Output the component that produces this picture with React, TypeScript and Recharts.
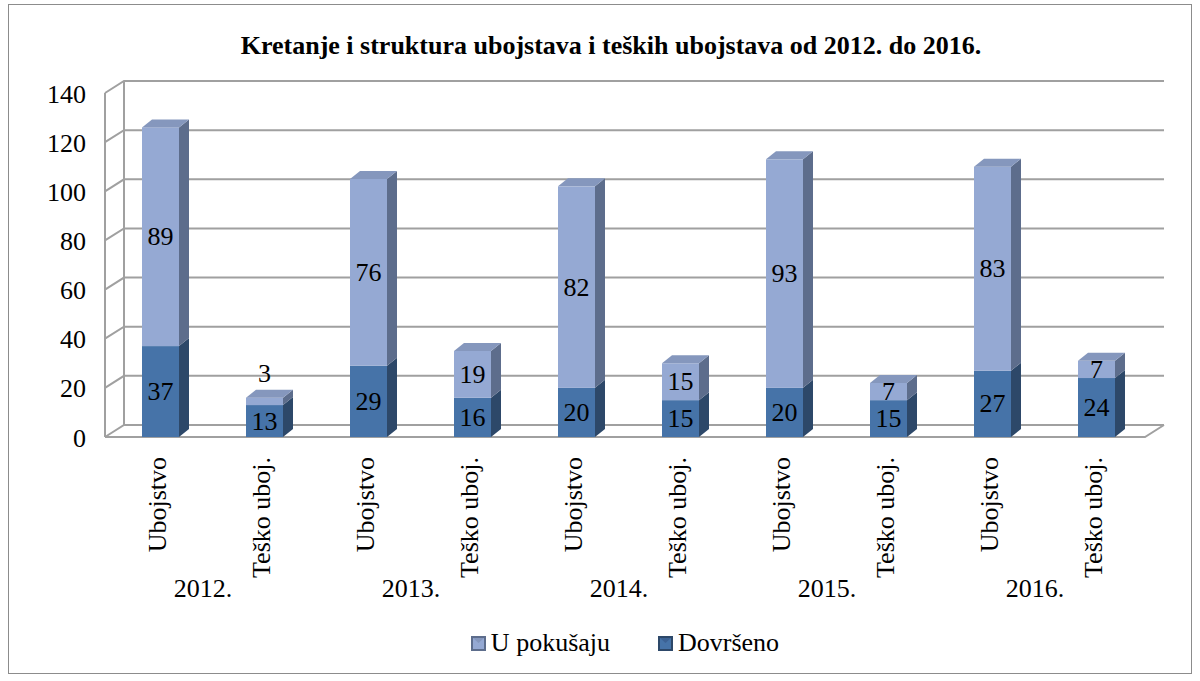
import React from "react";
import {
    BarChart,
    Bar,
    XAxis,
    YAxis,
    CartesianGrid,
    Legend,
    LabelList,
} from "recharts";

const categories = [
    "Ubojstvo",
    "Teško uboj.",
    "Ubojstvo",
    "Teško uboj.",
    "Ubojstvo",
    "Teško uboj.",
    "Ubojstvo",
    "Teško uboj.",
    "Ubojstvo",
    "Teško uboj.",
];
const years = ["2012.", "2013.", "2014.", "2015.", "2016."];
const dovrseno = [37, 13, 29, 16, 20, 15, 20, 15, 27, 24];
const uPokusaju = [89, 3, 76, 19, 82, 15, 93, 7, 83, 7];
const yTicks = [0, 20, 40, 60, 80, 100, 120, 140];

const data = categories.map((name, i) => ({
    name,
    year: years[Math.floor(i / 2)],
    dovrseno: dovrseno[i],
    pokusaj: uPokusaju[i],
}));

const FONT = "'Liberation Serif', 'Times New Roman', serif";
const FS = 26;
const W = 1182;
const H = 668;
const DX = 19; // 3D wall depth
const DY = 12;
const BAR_DX = 10; // bar depth
const BAR_DY = 8;
const GRID = "#a0a0a0";

const LIGHT = { front: "#95a9d3", side: "#5d6d8c", top: "#8597bd" };
const DARK = { front: "#4673a8", side: "#2d4869", top: "#3c6294" };

function makeBox(c: typeof LIGHT, withTop: boolean) {
    return (props: any) => {
        const { x, y, width, height } = props;
        if (!height || height <= 0) return <g />;
        const bx = x + 3;
        const r = bx + width;
        return (
            <g>
                <rect x={bx} y={y} width={width} height={height} fill={c.front} />
                <polygon
                    points={`${r},${y} ${r + BAR_DX},${y - BAR_DY} ${r + BAR_DX},${y + height - BAR_DY} ${r},${y + height}`}
                    fill={c.side}
                />
                {withTop && (
                    <polygon
                        points={`${bx},${y} ${bx + BAR_DX},${y - BAR_DY} ${r + BAR_DX},${y - BAR_DY} ${r},${y}`}
                        fill={c.top}
                    />
                )}
            </g>
        );
    };
}

const makeLabel = (above: boolean) => (props: any) => {
    const { x, y, width, height, value } = props;
    const outside = above && height < 14;
    const cy = outside ? y - BAR_DY - 16 : y + height / 2;
    return (
        <text
            x={x + 3 + width / 2}
            y={cy}
            textAnchor="middle"
            dominantBaseline="central"
            fontFamily={FONT}
            fontSize={FS}
            fill="#000"
        >
            {value}
        </text>
    );
};

function gridLine(props: any) {
    const { x1, y1, x2, index } = props;
    const top = props.y ?? 88;
    const bottom = (props.y ?? 88) + (props.height ?? 344);
    const step = (bottom - top) / 7;
    const isBottom = Math.abs(y1 - bottom) < 1;
    const isTop = Math.abs(y1 - top) < 1;
    return (
        <g key={`gl-${index}-${y1}`} fill="none" stroke={GRID} strokeWidth={2}>
            <polyline
                points={`${x1},${y1} ${x1 + DX},${y1 - DY} ${x2 + DX},${y1 - DY}`}
            />
            {!isTop && (
                <line x1={x1 + DX} y1={y1 - DY} x2={x1 + DX} y2={y1 - DY - step} />
            )}
            {isBottom && (
                <polyline
                    points={`${x1},${y1} ${x2},${y1} ${x2 + DX},${y1 - DY}`}
                />
            )}
        </g>
    );
}

function CategoryTick(props: any) {
    const { x, y, payload, index } = props;
    const ty = y + 12;
    return (
        <g>
            <text
                x={x}
                y={ty}
                transform={`rotate(-90, ${x}, ${ty})`}
                textAnchor="end"
                dominantBaseline="central"
                fontFamily={FONT}
                fontSize={FS}
                fill="#000"
            >
                {payload.value}
            </text>
            {index % 2 === 0 && (
                <text
                    x={x + 46}
                    y={y + 143}
                    textAnchor="middle"
                    dominantBaseline="central"
                    fontFamily={FONT}
                    fontSize={FS}
                    fill="#000"
                >
                    {years[index / 2]}
                </text>
            )}
        </g>
    );
}

function ValueTick(props: any) {
    const { y, payload } = props;
    return (
        <text
            x={77}
            y={y + 1}
            textAnchor="end"
            dominantBaseline="central"
            fontFamily={FONT}
            fontSize={FS}
            fill="#000"
        >
            {payload.value}
        </text>
    );
}

function LegendIcon({ c }: { c: typeof LIGHT }) {
    return (
        <svg width={15} height={15} style={{ marginRight: 5 }}>
            <rect x={0} y={0} width={15} height={15} fill={c.side} />
            <rect x={2} y={2} width={11} height={11} fill={c.front} />
            <polygon points="2,2 13,2 7.5,7" fill={c.top} />
        </svg>
    );
}

function renderLegend() {
    const items = [
        { label: "U pokušaju", c: LIGHT },
        { label: "Dovršeno", c: DARK },
    ];
    return (
        <div
            style={{
                display: "flex",
                justifyContent: "center",
                alignItems: "center",
                gap: 48,
                height: 40,
                fontFamily: FONT,
                fontSize: FS,
                color: "#000",
                paddingLeft: 96,
            }}
        >
            {items.map((it) => (
                <div key={it.label} style={{ display: "flex", alignItems: "center" }}>
                    <LegendIcon c={it.c} />
                    <span>{it.label}</span>
                </div>
            ))}
        </div>
    );
}

export default function App() {
    return (
        <div
            style={{
                position: "absolute",
                left: 8,
                top: 4,
                width: W,
                height: H,
                border: "1px solid #8c8c8c",
                background: "#fff",
            }}
        >
            <div
                style={{
                    position: "absolute",
                    top: 26,
                    left: 0,
                    width: W,
                    paddingLeft: 22,
                    boxSizing: "border-box",
                    textAlign: "center",
                    fontFamily: FONT,
                    fontWeight: "bold",
                    fontSize: FS,
                    color: "#000",
                }}
            >
                Kretanje i struktura ubojstava i teških ubojstava od 2012. do 2016.
            </div>
            <BarChart
                width={W}
                height={H}
                data={data}
                margin={{ top: 88, right: 46, left: 0, bottom: 10 }}
                barSize={37}
            >
                <CartesianGrid
                    vertical={false}
                    horizontal={gridLine as any}
                    stroke={GRID}
                />
                <XAxis
                    dataKey="name"
                    height={186}
                    tickLine={false}
                    axisLine={false}
                    interval={0}
                    tick={<CategoryTick />}
                />
                <YAxis
                    width={96}
                    domain={[0, 140]}
                    ticks={yTicks}
                    tickLine={false}
                    axisLine={{ stroke: GRID, strokeWidth: 2 }}
                    tick={<ValueTick />}
                />
                <Legend
                    verticalAlign="bottom"
                    height={40}
                    content={renderLegend}
                />
                <Bar
                    dataKey="dovrseno"
                    name="Dovršeno"
                    stackId="a"
                    fill={DARK.front}
                    shape={makeBox(DARK, false)}
                    isAnimationActive={false}
                >
                    <LabelList dataKey="dovrseno" content={makeLabel(false)} />
                </Bar>
                <Bar
                    dataKey="pokusaj"
                    name="U pokušaju"
                    stackId="a"
                    fill={LIGHT.front}
                    shape={makeBox(LIGHT, true)}
                    isAnimationActive={false}
                >
                    <LabelList dataKey="pokusaj" content={makeLabel(true)} />
                </Bar>
            </BarChart>
        </div>
    );
}
